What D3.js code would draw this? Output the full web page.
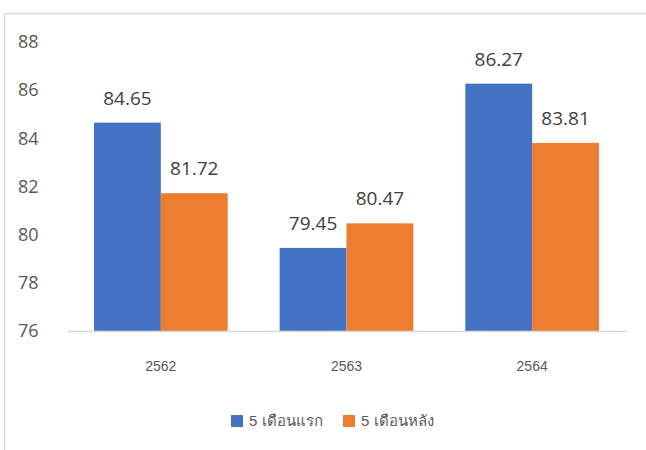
<!DOCTYPE html>
<html><head><meta charset="utf-8">
<script src="https://cdn.jsdelivr.net/npm/d3@7"></script>
<style>body{margin:0;background:#fff;} svg{display:block;}</style>
</head><body>
<script>
const categories = ["2562", "2563", "2564"];
const seriesNames = ["5 เดือนแรก", "5 เดือนหลัง"];
const first5 = [84.65, 79.45, 86.27];
const last5 = [81.72, 80.47, 83.81];
const yTicks = [76, 78, 80, 82, 84, 86, 88];
const colors = ["#4472C4", "#ED7D31"];

const W = 646, H = 450;
const svg = d3.select("body").append("svg").attr("width", W).attr("height", H);

// chart border (left & top visible)
svg.append("rect").attr("x", 4.5).attr("y", 13.5).attr("width", W + 10).attr("height", H + 10)
  .attr("fill", "#fff").attr("stroke", "#d9d9d9").attr("stroke-width", 1.5);

const x = d3.scaleBand().domain(categories).range([68, 625]).paddingInner(0.28).paddingOuter(0.14);
const x1 = d3.scaleBand().domain([0, 1]).range([0, x.bandwidth()]);
const y = d3.scaleLinear().domain([76, 88]).range([331, 42]);

// y tick labels
svg.append("g").selectAll("text").data(yTicks).join("text")
  .attr("x", 18).attr("y", d => y(d)).attr("dy", "0.35em")
  .attr("font-family", "'Open Sans', sans-serif").attr("font-size", 18).attr("fill", "#595959")
  .text(d => d);

const data = categories.map((c, i) => ({cat: c, vals: [first5[i], last5[i]]}));

const groups = svg.append("g").selectAll("g").data(data).join("g")
  .attr("transform", d => `translate(${x(d.cat)},0)`);

groups.selectAll("rect").data(d => d.vals.map((v, k) => ({v, k}))).join("rect")
  .attr("x", d => x1(d.k)).attr("width", x1.bandwidth())
  .attr("y", d => y(d.v)).attr("height", d => y(76) - y(d.v))
  .attr("fill", d => colors[d.k]);

groups.selectAll("text.lbl").data(d => d.vals.map((v, k) => ({v, k}))).join("text")
  .attr("class", "lbl")
  .attr("x", d => x1(d.k) + x1.bandwidth() / 2).attr("y", d => y(d.v) - 18)
  .attr("text-anchor", "middle")
  .attr("font-family", "'Open Sans', sans-serif").attr("font-size", 19).attr("fill", "#404040")
  .text(d => d.v.toFixed(2));

// x axis line
svg.append("line").attr("x1", 68).attr("x2", 627).attr("y1", 331.5).attr("y2", 331.5)
  .attr("stroke", "#d9d9d9").attr("stroke-width", 1.5);

// x labels
svg.append("g").selectAll("text").data(categories).join("text")
  .attr("x", d => x(d) + x.bandwidth() / 2).attr("y", 366).attr("dy", "0.35em")
  .attr("text-anchor", "middle")
  .attr("font-family", "'Liberation Sans', Arial, sans-serif").attr("font-size", 14).attr("fill", "#595959")
  .text(d => d);

// legend
const legX = [231, 343];
const leg = svg.append("g").selectAll("g").data(seriesNames).join("g")
  .attr("transform", (d, i) => `translate(${legX[i]},415)`);
leg.append("rect").attr("width", 12).attr("height", 12).attr("fill", (d, i) => colors[i]);
leg.append("text").attr("x", 18).attr("y", 6).attr("dy", "0.35em")
  .attr("font-family", "'Liberation Sans', 'Noto Sans', sans-serif").attr("font-size", 15).attr("fill", "#595959")
  .text(d => d);
</script>
</body></html>
